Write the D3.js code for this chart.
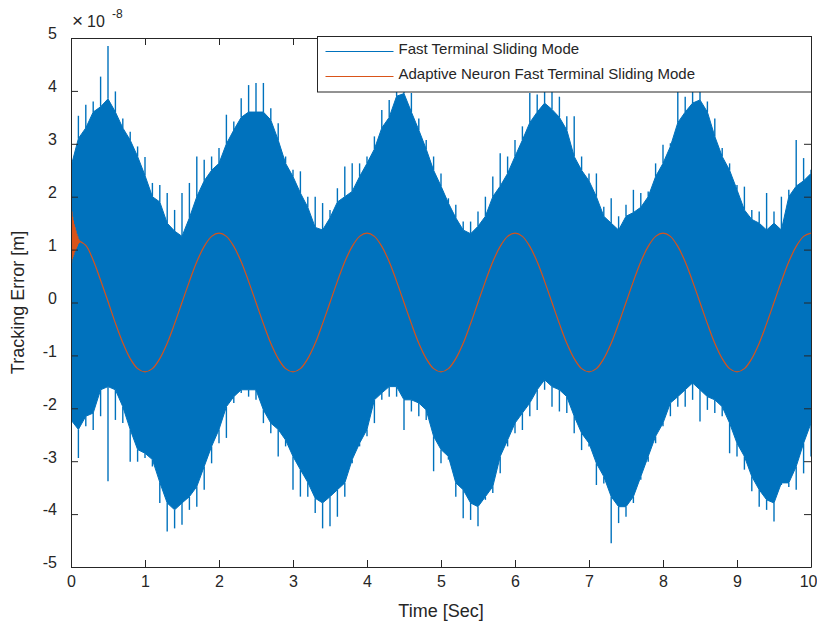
<!DOCTYPE html>
<html lang="en">
<head>
    <meta charset="UTF-8">
    <title>Tracking Error</title>
    <script src="https://cdn.jsdelivr.net/npm/d3@7"></script>
    <style>
        body { margin: 0; background: #fff; }
        text { font-family: "Liberation Sans", Arial, sans-serif; fill: #262626; }
    </style>
</head>
<body>
<script>
    // sample grid of the plot (seconds), 0.1 s apart
    const time = d3.range(101).map(i => i / 10)

    // Fast Terminal Sliding Mode: dense noisy band, read as body top / body bottom
    // plus the tip of the tallest spike near each sample (units of 1e-8 m)
    const ftsmUpper = [2.57, 3.1, 3.3, 3.6, 3.7, 3.85, 3.6, 3.3, 3.07, 2.76,
        2.4, 2.0, 1.9, 1.5, 1.35, 1.25, 1.6, 2.0, 2.3, 2.5,
        2.63, 3.0, 3.26, 3.5, 3.6, 3.6, 3.6, 3.45, 3.07, 2.63,
        2.38, 2.07, 1.8, 1.42, 1.37, 1.6, 1.9, 2.0, 2.1, 2.38,
        2.63, 2.9, 3.3, 3.5, 3.9, 3.95, 3.6, 3.26, 2.9, 2.5,
        2.2, 1.88, 1.6, 1.37, 1.3, 1.44, 1.63, 2.0, 2.2, 2.44,
        2.76, 3.07, 3.4, 3.6, 3.77, 3.65, 3.5, 3.26, 2.76, 2.5,
        2.3, 2.0, 1.63, 1.5, 1.37, 1.63, 1.7, 1.8, 2.0, 2.38,
        2.63, 2.95, 3.4, 3.6, 3.77, 3.83, 3.6, 3.14, 2.76, 2.5,
        2.13, 1.75, 1.57, 1.5, 1.37, 1.5, 1.37, 2.0, 2.2, 2.3, 2.44]
    const ftsmUpperSpike = [3.17, 3.53, 3.74, 3.8, 4.27, 4.85, 3.99, 3.48, 3.23, 2.95,
        2.75, 2.26, 2.22, 2.07, 1.75, 2.07, 2.26, 2.76, 2.7, 2.76,
        2.92, 3.55, 3.42, 3.86, 4.11, 4.15, 4.15, 3.67, 3.39, 2.76,
        2.51, 2.48, 2.0, 2.0, 1.88, 1.75, 2.16, 2.57, 2.63, 2.63,
        2.76, 3.14, 3.64, 3.83, 4.05, 4.3, 3.96, 3.48, 3.07, 2.76,
        2.44, 1.97, 1.85, 1.53, 1.53, 1.72, 2.0, 2.38, 2.82, 2.76,
        3.07, 3.33, 3.96, 3.93, 4.0, 4.0, 3.89, 3.52, 3.52, 2.76,
        2.44, 2.44, 1.81, 1.97, 1.63, 1.85, 2.13, 2.07, 2.1, 2.63,
        2.98, 3.01, 3.99, 3.89, 4.0, 4.0, 3.8, 3.48, 2.92, 2.63,
        2.22, 2.19, 1.75, 1.72, 2.07, 1.72, 2.0, 2.13, 3.07, 2.73, 2.51]
    const ftsmLower = [-2.22, -2.4, -2.15, -2.09, -1.65, -1.59, -1.65, -1.97, -2.4, -2.78,
        -2.85, -2.97, -3.4, -3.79, -3.92, -3.79, -3.67, -3.48, -3.1, -2.72,
        -2.4, -1.97, -1.78, -1.65, -1.65, -1.65, -2.03, -2.28, -2.4, -2.6,
        -2.91, -3.16, -3.4, -3.7, -3.79, -3.67, -3.54, -3.41, -2.97, -2.66,
        -2.4, -1.84, -1.71, -1.59, -1.59, -1.84, -1.84, -1.9, -2.03, -2.53,
        -2.78, -2.91, -3.41, -3.54, -3.79, -3.86, -3.67, -3.48, -2.91, -2.6,
        -2.28, -2.09, -1.9, -1.65, -1.46, -1.59, -1.65, -1.78, -2.15, -2.47,
        -2.66, -3.04, -3.29, -3.67, -3.86, -3.86, -3.67, -3.29, -2.91, -2.53,
        -2.28, -1.9, -1.78, -1.65, -1.52, -1.65, -1.78, -1.84, -1.97, -2.28,
        -2.66, -2.91, -3.29, -3.54, -3.73, -3.79, -3.41, -3.41, -3.1, -2.66, -2.28]
    const ftsmLowerSpike = [-2.47, -2.94, -2.34, -2.41, -2.15, -3.38, -2.22, -2.28, -3.01, -3.01,
        -2.94, -3.1, -3.79, -4.33, -4.27, -4.2, -3.92, -3.86, -3.54, -3.04,
        -2.66, -2.56, -1.9, -1.71, -1.78, -1.84, -2.28, -2.47, -2.91, -2.72,
        -3.54, -3.67, -3.67, -3.98, -4.27, -4.23, -4.05, -3.67, -3.04, -2.72,
        -2.53, -2.28, -1.84, -1.78, -1.78, -2.41, -2.06, -2.15, -2.22, -3.19,
        -3.04, -2.97, -3.67, -4.08, -4.11, -4.23, -3.73, -3.6, -3.23, -2.72,
        -2.47, -2.41, -2.15, -2.03, -1.65, -1.97, -2.06, -2.09, -2.47, -2.79,
        -2.72, -3.45, -3.42, -4.55, -4.17, -4.05, -3.79, -3.35, -3.01, -2.66,
        -2.34, -2.15, -1.97, -1.97, -1.84, -2.25, -2.03, -2.09, -2.15, -2.85,
        -2.91, -3.16, -3.57, -3.86, -3.92, -4.14, -3.45, -3.49, -3.54, -3.23, -2.91]

    // Adaptive Neuron FTSM: start-up chatter (first 0.12 s) then smooth wave from t = 0.1
    const anftsmStartTime = [0, 0.003, 0.008, 0.013, 0.018, 0.023, 0.028, 0.033, 0.038, 0.044, 0.05,
        0.056, 0.062, 0.068, 0.074, 0.08, 0.086, 0.092, 0.098, 0.104, 0.11, 0.12]
    const anftsmStart = [0, 1.88, 0.75, 1.72, 0.82, 1.62, 0.86, 1.55, 0.9, 1.48, 0.95,
        1.42, 0.98, 1.36, 1.02, 1.3, 1.06, 1.25, 1.1, 1.2, 1.13, 1.17]
    const anftsm = [1.17, 1.08, 0.8, 0.42, 0.02, -0.39, -0.76, -1.06, -1.25, -1.31,
        -1.25, -1.06, -0.77, -0.4, 0.0, 0.4, 0.77, 1.06, 1.25, 1.31,
        1.25, 1.06, 0.77, 0.4, 0.0, -0.4, -0.77, -1.06, -1.25, -1.31,
        -1.25, -1.06, -0.77, -0.4, 0.0, 0.4, 0.77, 1.06, 1.25, 1.31,
        1.25, 1.06, 0.77, 0.4, 0.0, -0.4, -0.77, -1.06, -1.25, -1.31,
        -1.25, -1.06, -0.77, -0.4, 0.0, 0.4, 0.77, 1.06, 1.25, 1.31,
        1.25, 1.06, 0.77, 0.4, 0.0, -0.4, -0.77, -1.06, -1.25, -1.31,
        -1.25, -1.06, -0.77, -0.4, 0.0, 0.4, 0.77, 1.06, 1.25, 1.31,
        1.25, 1.06, 0.77, 0.4, 0.0, -0.4, -0.77, -1.06, -1.25, -1.31,
        -1.25, -1.06, -0.77, -0.4, 0.0, 0.4, 0.77, 1.06, 1.25, 1.31]

    const xTicks = [0, 1, 2, 3, 4, 5, 6, 7, 8, 9, 10]
    const yTicks = [-5, -4, -3, -2, -1, 0, 1, 2, 3, 4, 5]
    const seriesNames = ['Fast Terminal Sliding Mode', 'Adaptive Neuron Fast Terminal Sliding Mode']
    const seriesColors = ['#0072BD', '#D95319']

    const [W, H] = [817, 626]
    const margin = {top: 38, right: 6, bottom: 59, left: 71}
    const w = W - margin.left - margin.right
    const h = H - margin.top - margin.bottom

    const svg = d3.select('body').append('svg').attr('width', W).attr('height', H)
    const g = svg.append('g').attr('transform', `translate(${margin.left},${margin.top})`)

    const x = d3.scaleLinear().domain([0, 10]).range([0, w])
    const y = d3.scaleLinear().domain([-5, 5]).range([h, 0])

    g.append('clipPath').attr('id', 'plot')
        .append('rect').attr('width', w).attr('height', h)
    const plot = g.append('g').attr('clip-path', 'url(#plot)')

    // blue band
    const band = d3.area()
        .x((d, i) => x(time[i]))
        .y0((d, i) => y(ftsmLower[i]))
        .y1((d, i) => y(ftsmUpper[i]))
    plot.append('path').datum(time)
        .attr('d', band)
        .attr('fill', seriesColors[0])
        .attr('stroke', seriesColors[0])
        .attr('stroke-width', 1)

    // spikes poking out of the band
    plot.selectAll('line.up').data(time).enter().append('line')
        .attr('class', 'up')
        .attr('x1', d => x(d)).attr('x2', d => x(d))
        .attr('y1', (d, i) => y(ftsmUpper[i])).attr('y2', (d, i) => y(ftsmUpperSpike[i]))
        .attr('stroke', seriesColors[0]).attr('stroke-width', 1.4)
    plot.selectAll('line.down').data(time).enter().append('line')
        .attr('class', 'down')
        .attr('x1', d => x(d)).attr('x2', d => x(d))
        .attr('y1', (d, i) => y(ftsmLower[i])).attr('y2', (d, i) => y(ftsmLowerSpike[i]))
        .attr('stroke', seriesColors[0]).attr('stroke-width', 1.4)

    // orange line
    plot.append('path').datum(anftsmStart)
        .attr('d', d3.line().x((d, i) => x(anftsmStartTime[i])).y(d => y(d)))
        .attr('fill', 'none').attr('stroke', seriesColors[1]).attr('stroke-width', 1.2)
    plot.append('path').datum(anftsm)
        .attr('d', d3.line().curve(d3.curveCatmullRom)
            .x((d, i) => x(time[i + 1])).y(d => y(d)))
        .attr('fill', 'none').attr('stroke', seriesColors[1]).attr('stroke-width', 1.2)

    // axes, MATLAB box with inward ticks on all sides
    const styleAxis = sel => {
        sel.select('.domain').attr('stroke', '#262626')
        sel.selectAll('.tick line').attr('stroke', '#262626')
        sel.selectAll('text').attr('fill', '#262626').style('font-size', '16px')
            .style('font-family', '"Liberation Sans", Arial, sans-serif')
    }
    const plain = d => String(d)   // hyphen minus like the original, not U+2212
    const bottomAxis = g.append('g').attr('transform', `translate(0,${h})`)
        .call(d3.axisBottom(x).tickValues(xTicks).tickFormat(plain)
            .tickSize(-7).tickSizeOuter(0).tickPadding(9))
        .call(styleAxis)
    // keep the last label inside the window
    bottomAxis.selectAll('.tick text').filter(d => d === 10)
        .attr('text-anchor', 'end').attr('dx', 6)
    g.append('g')
        .call(d3.axisLeft(y).tickValues(yTicks).tickFormat(plain)
            .tickSize(-7).tickSizeOuter(0).tickPadding(14))
        .call(styleAxis)
        .selectAll('text').attr('dy', '0.05em')
    g.append('g')
        .call(d3.axisTop(x).tickValues(xTicks).tickSize(-7).tickSizeOuter(0).tickFormat(''))
        .call(styleAxis)
    g.append('g').attr('transform', `translate(${w},0)`)
        .call(d3.axisRight(y).tickValues(yTicks).tickSize(-7).tickSizeOuter(0).tickFormat(''))
        .call(styleAxis)

    // exponent
    const expo = svg.append('text').attr('x', 72).attr('y', 27).style('font-size', '16px')
    expo.append('tspan').style('font-size', '19px').text('×')
    expo.append('tspan').attr('dx', 4).text('10')
    expo.append('tspan').attr('dx', 7).attr('dy', -9).style('font-size', '12px').text('-8')

    // axis titles
    svg.append('text')
        .attr('x', margin.left + w / 2).attr('y', 617)
        .attr('text-anchor', 'middle').style('font-size', '18px')
        .text('Time [Sec]')
    svg.append('text')
        .attr('transform', `translate(24,${margin.top + h / 2}) rotate(-90)`)
        .attr('text-anchor', 'middle').style('font-size', '18px')
        .text('Tracking Error [m]')

    // legend
    const legend = svg.append('g').attr('transform', 'translate(317.5,36.5)')
    legend.append('rect').attr('width', 494).attr('height', 55.5)
        .attr('fill', '#fff').attr('stroke', '#262626').attr('stroke-width', 1)
    seriesNames.forEach((name, i) => {
        const row = legend.append('g').attr('transform', `translate(0,${15 + i * 25})`)
        row.append('line').attr('x1', 8).attr('x2', 76)
            .attr('stroke', seriesColors[i]).attr('stroke-width', 1)
        row.append('text').attr('x', 81).attr('y', 2).style('font-size', '15px').text(name)
    })
</script>
</body>
</html>
